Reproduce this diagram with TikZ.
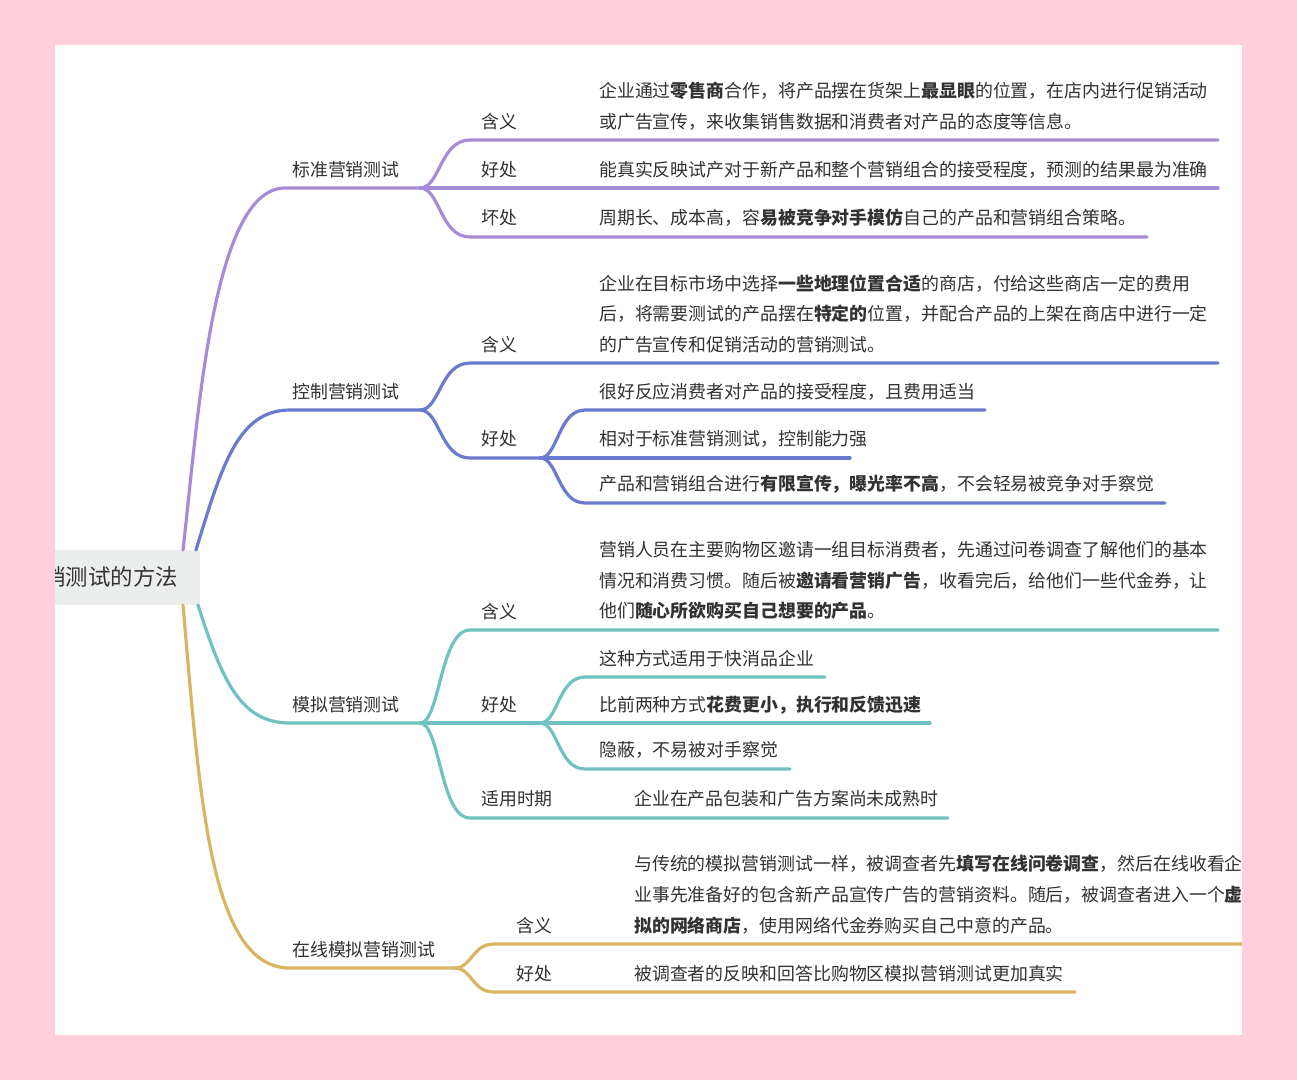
\documentclass[tikz,border=0pt]{standalone}
\usepackage{fontspec}
\setmainfont{Noto Sans CJK SC}
\definecolor{bgpink}{RGB}{255,208,219}
\definecolor{rootgray}{RGB}{236,238,238}
\definecolor{txt}{RGB}{50,50,50}
\definecolor{cpur}{RGB}{166,140,216}
\definecolor{cblu}{RGB}{105,122,207}
\definecolor{cteal}{RGB}{112,194,192}
\definecolor{cgold}{RGB}{217,181,98}
\newcommand\fsz{\fontsize{17.9}{20}\selectfont}
\newcommand\rsz{\fontsize{22.4}{26}\selectfont}
\begin{document}
\begin{tikzpicture}[x=1pt,y=-1pt,
  br/.style={line width=3.2pt, line cap=round},
  lab/.style={anchor=west, inner sep=0pt, font=\fsz, text=txt},
  rootbox/.style={fill=rootgray, inner sep=0pt, minimum width=145pt, minimum height=55pt},
  roottext/.style={anchor=east, inner sep=0pt, font=\rsz, text=txt}]
\useasboundingbox (0,0) rectangle (1297,1080);
\fill[bgpink] (0,0) rectangle (1297,1080);
\fill[white] (55,45) rectangle (1242,1035);
\begin{scope}
\clip (55,45) rectangle (1242,1035);
% root
\node[rootbox] (root) at (127.5,577.5) {};
\node[roottext] (roottxt) at (178,577) {营销测试的方法};
\coordinate (r1) at (183,550);
\coordinate (r2) at (196,550);
\coordinate (r3) at (198,605);
\coordinate (r4) at (183,605);
% forks
\coordinate (f1) at (420,188);
\coordinate (f2) at (420,410);
\coordinate (f3) at (420,723);
\coordinate (f4) at (455,968);
\coordinate (g2) at (540,458);
\coordinate (g3) at (540,723);
% ends
\coordinate (e11) at (1218,140);
\coordinate (e12) at (1218,188);
\coordinate (e13) at (1147,237);
\coordinate (e21) at (1218,363);
\coordinate (e22) at (985,410);
\coordinate (e23) at (850,458);
\coordinate (e24) at (1165,503);
\coordinate (e31) at (1218,630);
\coordinate (e32) at (825,677);
\coordinate (e33) at (930,723);
\coordinate (e34) at (790,769);
\coordinate (e35) at (948,818);
\coordinate (e41) at (1250,944);
\coordinate (e42) at (1075,992);

% ---- purple: 标准营销测试
\draw[br,cpur] (r1) .. controls (198,420) and (212,188) .. (285,188) -- (f1);
\draw[br,cpur] (f1) .. controls (440,188) and (440,140) .. (470,140) -- (e11);
\draw[br,cpur] (f1) -- (e12);
\draw[br,cpur] (f1) .. controls (440,188) and (440,237) .. (470,237) -- (e13);
\node[lab] (n1) at (292,170) {标准营销测试};
\node[lab] (n11) at (481,122) {含义};
\node[lab] (n12) at (481,170) {好处};
\node[lab] (n13) at (481,218) {坏处};
\node[lab] (t11a) at (599,91) {企业通过{\bfseries 零售商}合作，将产品摆在货架上{\bfseries 最显眼}的位置，在店内进行促销活动};
\node[lab] (t11b) at (599,122) {或广告宣传，来收集销售数据和消费者对产品的态度等信息。};
\node[lab] (t12) at (599,170) {能真实反映试产对于新产品和整个营销组合的接受程度，预测的结果最为准确};
\node[lab] (t13) at (599,218) {周期长、成本高，容{\bfseries 易被竞争对手模仿}自己的产品和营销组合策略。};

% ---- blue: 控制营销测试
\draw[br,cblu] (r2) .. controls (222,465) and (238,410) .. (290,410) -- (f2);
\draw[br,cblu] (f2) .. controls (440,410) and (440,363) .. (470,363) -- (e21);
\draw[br,cblu] (f2) .. controls (440,410) and (440,458) .. (470,458) -- (g2);
\draw[br,cblu] (g2) .. controls (558,458) and (558,410) .. (585,410) -- (e22);
\draw[br,cblu] (g2) -- (e23);
\draw[br,cblu] (g2) .. controls (558,458) and (558,503) .. (585,503) -- (e24);
\node[lab] (n2) at (292,392) {控制营销测试};
\node[lab] (n21) at (481,345) {含义};
\node[lab] (n22) at (481,439) {好处};
\node[lab] (t21a) at (599,284) {企业在目标市场中选择{\bfseries 一些地理位置合适}的商店，付给这些商店一定的费用};
\node[lab] (t21b) at (599,314) {后，将需要测试的产品摆在{\bfseries 特定的}位置，并配合产品的上架在商店中进行一定};
\node[lab] (t21c) at (599,345) {的广告宣传和促销活动的营销测试。};
\node[lab] (t22) at (599,392) {很好反应消费者对产品的接受程度，且费用适当};
\node[lab] (t23) at (599,439) {相对于标准营销测试，控制能力强};
\node[lab] (t24) at (599,484) {产品和营销组合进行{\bfseries 有限宣传，曝光率不高}，不会轻易被竞争对手察觉};

% ---- teal: 模拟营销测试
\draw[br,cteal] (r3) .. controls (222,680) and (240,723) .. (290,723) -- (f3);
\draw[br,cteal] (f3) .. controls (440,723) and (440,630) .. (470,630) -- (e31);
\draw[br,cteal] (f3) -- (g3);
\draw[br,cteal] (g3) .. controls (558,723) and (558,677) .. (585,677) -- (e32);
\draw[br,cteal] (g3) -- (e33);
\draw[br,cteal] (g3) .. controls (558,723) and (558,769) .. (585,769) -- (e34);
\draw[br,cteal] (f3) .. controls (440,723) and (440,818) .. (470,818) -- (e35);
\node[lab] (n3) at (292,705) {模拟营销测试};
\node[lab] (n31) at (481,612) {含义};
\node[lab] (n32) at (481,705) {好处};
\node[lab] (n33) at (481,799) {适用时期};
\node[lab] (t31a) at (599,550) {营销人员在主要购物区邀请一组目标消费者，先通过问卷调查了解他们的基本};
\node[lab] (t31b) at (599,581) {情况和消费习惯。随后被{\bfseries 邀请看营销广告}，收看完后，给他们一些代金券，让};
\node[lab] (t31c) at (599,611) {他们{\bfseries 随心所欲购买自己想要的产品}。};
\node[lab] (t32) at (599,659) {这种方式适用于快消品企业};
\node[lab] (t33) at (599,705) {比前两种方式{\bfseries 花费更小，执行和反馈迅速}};
\node[lab] (t34) at (599,750) {隐蔽，不易被对手察觉};
\node[lab] (t35) at (634,799) {企业在产品包装和广告方案尚未成熟时};

% ---- gold: 在线模拟营销测试
\draw[br,cgold] (r4) .. controls (200,800) and (210,968) .. (290,968) -- (f4);
\draw[br,cgold] (f4) .. controls (472,968) and (472,944) .. (494,944) -- (e41);
\draw[br,cgold] (f4) .. controls (472,968) and (472,992) .. (494,992) -- (e42);
\node[lab] (n4) at (292,950) {在线模拟营销测试};
\node[lab] (n41) at (516,926) {含义};
\node[lab] (n42) at (516,974) {好处};
\node[lab] (t41a) at (634,864) {与传统的模拟营销测试一样，被调查者先{\bfseries 填写在线问卷调查}，然后在线收看企};
\node[lab] (t41b) at (634,895) {业事先准备好的包含新产品宣传广告的营销资料。随后，被调查者进入一个{\bfseries 虚}};
\node[lab] (t41c) at (634,926) {{\bfseries 拟的网络商店}，使用网络代金券购买自己中意的产品。};
\node[lab] (t42) at (634,974) {被调查者的反映和回答比购物区模拟营销测试更加真实};
\end{scope}
\end{tikzpicture}
\end{document}
